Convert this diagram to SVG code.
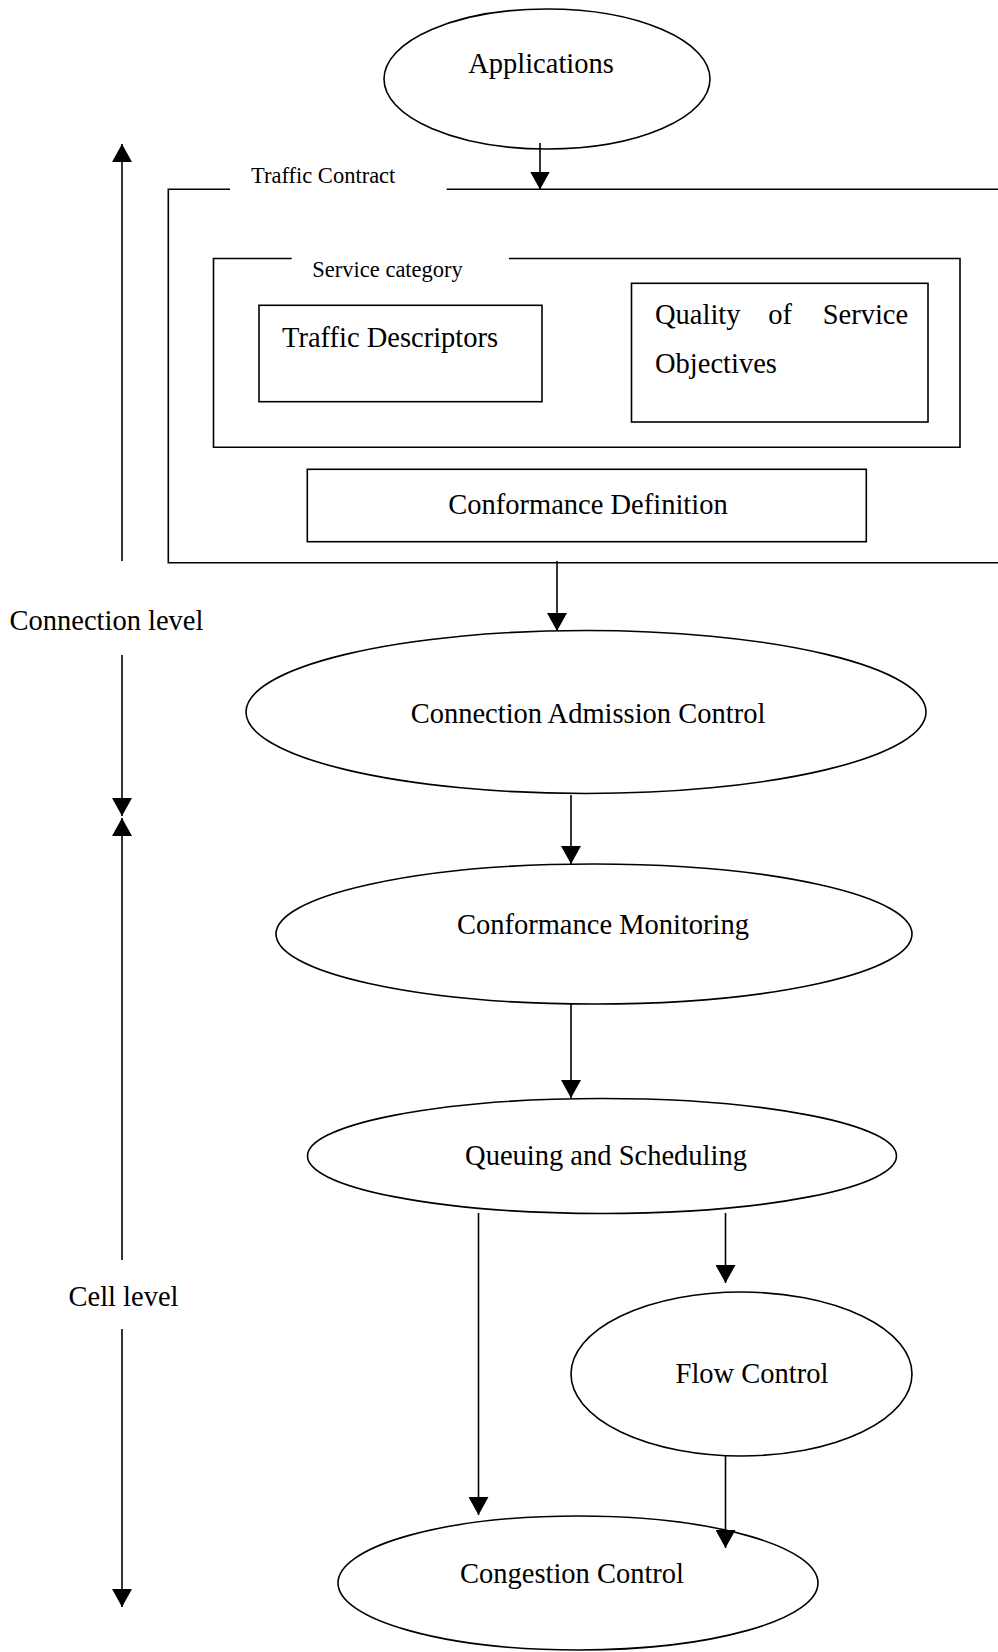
<svg xmlns="http://www.w3.org/2000/svg" width="998" height="1652" viewBox="0 0 998 1652">
<style>
.s{fill:none;stroke:#000;stroke-width:1.6}
.t{font-family:"Liberation Serif","Times New Roman",serif;font-size:28.5px;fill:#000}
.l{font-family:"Liberation Serif","Times New Roman",serif;font-size:22.5px;fill:#000}
.c{fill:none;stroke:#000;stroke-width:1.6}
</style>
<defs>
<marker id="ah" markerUnits="userSpaceOnUse" markerWidth="18" markerHeight="20" viewBox="0 0 18 20" refX="18" refY="10" orient="auto">
<path d="M0,0 L18,10 L0,20 z" fill="#000"/>
</marker>
</defs>
<rect width="998" height="1652" fill="#fff"/>
<g id="applications">
<ellipse class="s" cx="547" cy="79" rx="163" ry="70"/>
<text class="t" x="541" y="73" text-anchor="middle">Applications</text>
</g>
<g id="traffic-contract">
<path class="s" d="M230,189.3 H168.3 V562.7 H998 M446.7,189.3 H998"/>
<text class="l" x="251" y="183.3">Traffic Contract</text>
</g>
<g id="service-category">
<path class="s" d="M291.7,258.5 H213.5 V447.3 H960 V258.5 H509"/>
<text class="l" x="312.3" y="276.7">Service category</text>
</g>
<g id="traffic-descriptors">
<rect class="s" x="259" y="305.3" width="283" height="96.4"/>
<text class="t" x="282" y="347">Traffic Descriptors</text>
</g>
<g id="qos-objectives">
<rect class="s" x="631.5" y="283.3" width="296.5" height="138.7"/>
<text class="t" y="324"><tspan x="655">Quality</tspan><tspan x="768.3">of</tspan><tspan x="822.7">Service</tspan></text>
<text class="t" x="655" y="373">Objectives</text>
</g>
<g id="conformance-definition">
<rect class="s" x="307.3" y="469.3" width="559" height="72.4"/>
<text class="t" x="588" y="514" text-anchor="middle">Conformance Definition</text>
</g>
<g id="connection-admission-control">
<ellipse class="s" cx="586" cy="712" rx="340" ry="81.5"/>
<text class="t" x="588" y="723" text-anchor="middle">Connection Admission Control</text>
</g>
<g id="conformance-monitoring">
<ellipse class="s" cx="594" cy="934" rx="318" ry="70"/>
<text class="t" x="603" y="934" text-anchor="middle">Conformance Monitoring</text>
</g>
<g id="queuing-scheduling">
<ellipse class="s" cx="602" cy="1156" rx="294.5" ry="57.5"/>
<text class="t" x="606" y="1165" text-anchor="middle">Queuing and Scheduling</text>
</g>
<g id="flow-control">
<ellipse class="s" cx="741.5" cy="1374" rx="170.5" ry="82"/>
<text class="t" x="752" y="1383" text-anchor="middle">Flow Control</text>
</g>
<g id="congestion-control">
<ellipse class="s" cx="578" cy="1583" rx="240" ry="67"/>
<text class="t" x="572" y="1583" text-anchor="middle">Congestion Control</text>
</g>
<g id="level-labels">
<text class="t" x="9.5" y="630">Connection level</text>
<text class="t" x="123.5" y="1306" text-anchor="middle">Cell level</text>
</g>
<g id="connectors">
<line class="c" x1="540" y1="143" x2="540" y2="189.5" marker-end="url(#ah)"/>
<line class="c" x1="557" y1="561" x2="557" y2="631" marker-end="url(#ah)"/>
<line class="c" x1="571" y1="795" x2="571" y2="864" marker-end="url(#ah)"/>
<line class="c" x1="571" y1="1003" x2="571" y2="1098" marker-end="url(#ah)"/>
<line class="c" x1="478.5" y1="1213" x2="478.5" y2="1515" marker-end="url(#ah)"/>
<line class="c" x1="725.5" y1="1213" x2="725.5" y2="1283" marker-end="url(#ah)"/>
<line class="c" x1="725.5" y1="1456" x2="725.5" y2="1548" marker-end="url(#ah)"/>
<line class="c" x1="122" y1="561" x2="122" y2="144" marker-end="url(#ah)"/>
<line class="c" x1="122" y1="655" x2="122" y2="816" marker-end="url(#ah)"/>
<line class="c" x1="122" y1="1260" x2="122" y2="818" marker-end="url(#ah)"/>
<line class="c" x1="122" y1="1329" x2="122" y2="1607" marker-end="url(#ah)"/>
</g>
</svg>
